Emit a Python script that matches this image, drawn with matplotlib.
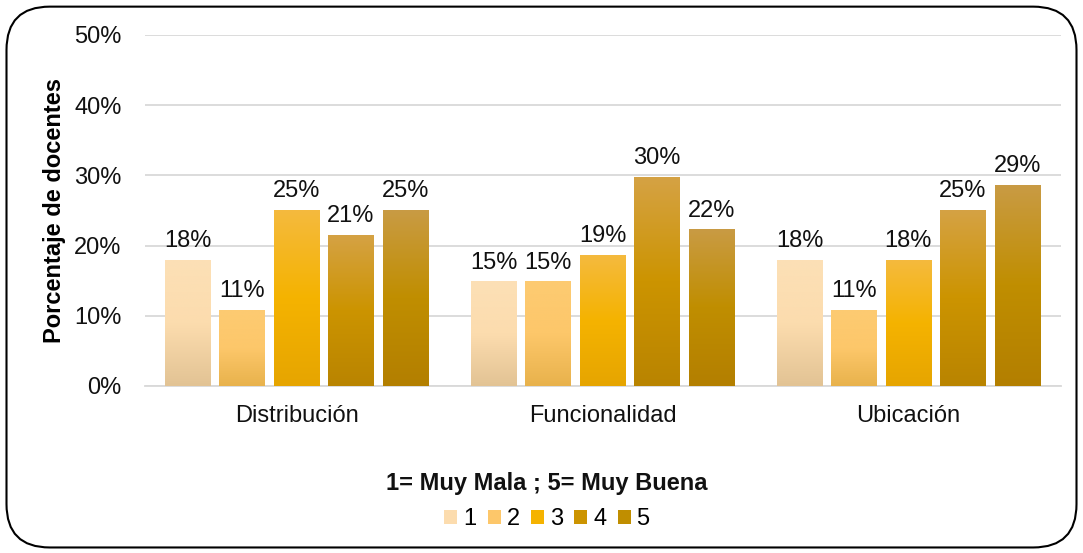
import numpy as np
import matplotlib
matplotlib.use('Agg')
import matplotlib.pyplot as plt
from matplotlib.colors import LinearSegmentedColormap
from matplotlib.patches import FancyBboxPatch, Patch

plt.rcParams['font.family'] = ['Liberation Sans', 'DejaVu Sans']

# data
categories = ['Distribución', 'Funcionalidad', 'Ubicación']
levels = ['1', '2', '3', '4', '5']
values = {
    '1': [0.1786, 0.1481, 0.1786],
    '2': [0.1071, 0.1481, 0.1071],
    '3': [0.2500, 0.1852, 0.1786],
    '4': [0.2143, 0.2963, 0.2500],
    '5': [0.2500, 0.2222, 0.2857],
}
# gradient stops per level: top, middle, bottom
gradients = {
    '1': ['#FCE0B6', '#FCDCAE', '#E2C394'],
    '2': ['#FDCB72', '#FDC76A', '#E8B24C'],
    '3': ['#F4BA3E', '#F5B300', '#E6A500'],
    '4': ['#D5A244', '#CC9400', '#B98400'],
    '5': ['#C99B44', '#C08E00', '#B37F00'],
}

fig = plt.figure(figsize=(10.83, 5.53), dpi=100)
ax = fig.add_axes([0.134, 0.302, 0.846, 0.635])

x = np.arange(len(categories))
step = 0.178
width = 0.148

for i, lev in enumerate(levels):
    cmap = LinearSegmentedColormap.from_list('g' + lev, gradients[lev][::-1])
    pos = x + (i - 2) * step
    bars = ax.bar(pos, values[lev], width, color=gradients[lev][1], zorder=2)
    for b in bars:
        x0, w, h = b.get_x(), b.get_width(), b.get_height()
        grad = np.linspace(0, 1, 256).reshape(-1, 1)
        ax.imshow(grad, extent=(x0, x0 + w, 0, h), origin='lower', cmap=cmap,
                  aspect='auto', zorder=3)
        ax.text(x0 + w / 2, h + 0.012, f'{round(h * 100):.0f}%', ha='center',
                va='bottom', fontsize=17, color='#111111', zorder=4)

ax.set_xlim(-0.495, 2.5)
ax.set_ylim(0, 0.5)
ax.set_yticks(np.arange(0, 0.51, 0.1))
ax.set_yticklabels([f'{int(round(v * 100))}%' for v in np.arange(0, 0.51, 0.1)])
ax.set_xticks(x)
ax.set_xticklabels(categories)
ax.tick_params(axis='both', length=0, labelsize=17, colors='#111111')
ax.tick_params(axis='x', pad=14)
ax.tick_params(axis='y', pad=17)
ax.grid(axis='y', color='#D9D9D9', linewidth=1.3, zorder=0)
ax.set_axisbelow(True)
for s in ['top', 'right', 'left']:
    ax.spines[s].set_visible(False)
ax.spines['bottom'].set_color('#D9D9D9')
ax.spines['bottom'].set_linewidth(1.3)
ax.set_ylabel('Porcentaje de docentes', fontsize=17, fontweight='bold', labelpad=6)

handles = [Patch(facecolor=gradients[l][1], edgecolor='none') for l in levels]
leg = fig.legend(handles, levels, loc='center', bbox_to_anchor=(0.505, 0.094), ncol=5,
                 frameon=False, fontsize=17, handlelength=0.55, handleheight=0.55,
                 handletextpad=0.25, columnspacing=0.48, labelspacing=0.55,
                 title='1= Muy Mala ; 5= Muy Buena',
                 title_fontproperties={'weight': 'bold', 'size': 17})
leg.get_title().set_color('#111111')

border = FancyBboxPatch((0.006, 0.01), 0.988, 0.978, boxstyle='round,pad=0,rounding_size=0.04',
                        transform=fig.transFigure, fill=False, edgecolor='black',
                        linewidth=1.5, mutation_aspect=1.96)
fig.patches.append(border)

fig.savefig('out.png', dpi=100)
